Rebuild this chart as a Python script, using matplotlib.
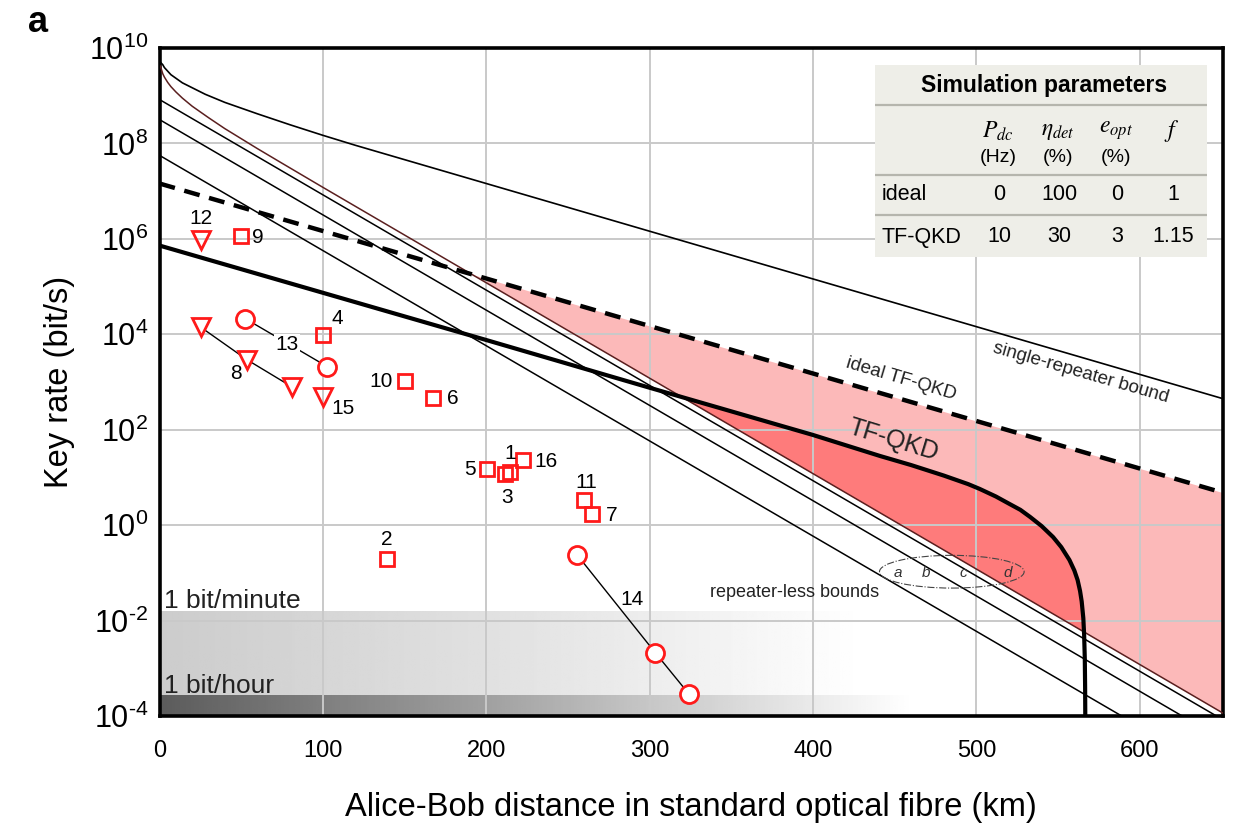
import numpy as np
import matplotlib.pyplot as plt
from matplotlib.patches import Ellipse

plt.rcParams['font.family'] = ['Liberation Sans', 'DejaVu Sans']
plt.rcParams['mathtext.fontset'] = 'stix'

# curves: distance (km), log10 of key rate (bit/s)
single_rep_km = [0, 2, 3, 7, 14, 28, 40, 60, 80, 100, 120, 150, 200, 300, 400, 500, 651]
single_rep_exp = [9.72, 9.65, 9.59, 9.44, 9.27, 9.03, 8.86, 8.62, 8.39, 8.17, 7.96, 7.66, 7.16, 6.16, 5.16, 4.16, 2.65]

ideal_km = [0, 651]
ideal_exp = [7.16, 0.68]

tfqkd_km = [0, 100, 200, 300, 400, 441, 460, 480, 495, 502, 512, 520, 527, 533, 540, 547,
            552, 557, 560, 562, 563.5, 564.5, 565.5, 566, 566.4, 566.6, 566.7]
tfqkd_exp = [5.86, 4.87, 3.88, 2.88, 1.89, 1.45, 1.26, 1.04, 0.86, 0.76, 0.60, 0.45, 0.32, 0.17, -0.02, -0.25,
             -0.46, -0.73, -0.95, -1.15, -1.38, -1.6, -1.95, -2.3, -2.8, -3.4, -4.0]

bound_a_km, bound_a_exp = [0, 589], [7.75, -4.0]
bound_b_km, bound_b_exp = [0, 626], [8.50, -4.0]
bound_c_km, bound_c_exp = [0, 647], [8.92, -4.0]
bound_d_km = [0.5, 1, 2, 3, 5, 7, 10, 14, 20, 30, 40, 50, 60, 75, 100, 200, 400, 651]
bound_d_exp = [9.62, 9.57, 9.46, 9.39, 9.28, 9.19, 9.08, 8.95, 8.78, 8.54, 8.31, 8.10, 7.89, 7.585, 7.08,
               5.08, 1.08, -3.94]

# experiments
sq_labels = ['9', '4', '10', '6', '5', '3', '1', '16', '11', '7', '2']
sq_km = [49.9, 100.3, 150.3, 167.7, 200.4, 211.6, 214.6, 222.8, 260.0, 265.0, 139.3]
sq_exp = [6.07, 3.98, 3.02, 2.67, 1.17, 1.08, 1.12, 1.36, 0.52, 0.23, -0.71]

tri_labels = ['12', '15']
tri_km = [25.2, 99.9]
tri_exp = [5.98, 2.69]

tri8_km = [25.2, 53.4, 81.0]
tri8_exp = [4.15, 3.47, 2.90]
circ13_km = [52.4, 102.8]
circ13_exp = [4.33, 3.32]
circ14_km = [255.8, 303.4, 324.1]
circ14_exp = [-0.63, -2.67, -3.54]

per_minute = 1 / 60
per_hour = 1 / 3600

# label offsets in pixels
offsets = {'9': (11, -2, 'left'), '4': (14, 17, 'center'), '10': (-24, 0, 'center'),
           '6': (19, -1, 'center'), '5': (-17, 0, 'center'), '3': (2, -24, 'center'),
           '1': (0, 18, 'center'), '16': (23, -1, 'center'), '11': (2, 18, 'center'),
           '7': (19, -1, 'center'), '2': (0, 20, 'center'), '12': (0, 21, 'center'),
           '15': (20, -12, 'center')}

red = '#ff1a1a'
light_pink = '#fcb9b9'
dark_pink = '#fe7b7b'

fig = plt.figure(figsize=(12.35, 8.31), dpi=100)
ax = fig.add_axes([159.5 / 1235, 1 - 716 / 831, (1223 - 159.5) / 1235, (716 - 48) / 831])
ax.set_yscale('log')


def r(v):
    return 10.0 ** np.asarray(v)


# grey bands for 1 bit/minute and 1 bit/hour
gx = np.linspace(0, 651, 400)
light = np.interp(gx, [0, 100, 200, 300, 430], [0.80, 0.84, 0.88, 0.93, 1.0])
dark = np.interp(gx, [0, 100, 200, 300, 460], [0.36, 0.50, 0.63, 0.78, 1.0])
ymin, ymax = -4, 10
f_min = (np.log10(per_minute) - ymin) / (ymax - ymin)
f_hour = (np.log10(per_hour) - ymin) / (ymax - ymin)
tr = ax.get_xaxis_transform()
ax.imshow(light[None, :], cmap='gray', vmin=0, vmax=1, aspect='auto',
          extent=(0, 651, f_hour, f_min), transform=tr, zorder=0)
ax.imshow(dark[None, :], cmap='gray', vmin=0, vmax=1, aspect='auto',
          extent=(0, 651, 0, f_hour), transform=tr, zorder=0)

# shaded regions
xs = np.linspace(0, 651, 3000)
d_i = np.interp(xs, bound_d_km, bound_d_exp)
ideal_i = np.interp(xs, ideal_km, ideal_exp)
tf_i = np.interp(xs, tfqkd_km, tfqkd_exp)
ax.fill_between(xs, r(d_i), r(ideal_i), where=ideal_i > d_i, interpolate=True,
                color=light_pink, lw=0, zorder=1)
ax.fill_between(xs, r(d_i), r(tf_i), where=tf_i > d_i, interpolate=True,
                color=dark_pink, lw=0, zorder=1)

# curves
ax.plot(single_rep_km, r(single_rep_exp), color='black', lw=1.2, zorder=3)
for km, ex in [(bound_a_km, bound_a_exp), (bound_b_km, bound_b_exp), (bound_c_km, bound_c_exp)]:
    ax.plot(km, r(ex), color='black', lw=1.1, zorder=3)
ax.plot(bound_d_km, r(bound_d_exp), color='#5a1f1f', lw=1.1, zorder=3)
ax.plot(ideal_km, r(ideal_exp), color='black', lw=3.2, dashes=(3.6, 2.2), zorder=3)
ax.plot(tfqkd_km, r(tfqkd_exp), color='black', lw=3.0, zorder=3, solid_joinstyle='round')

# experiment groups
for km, ex in [(tri8_km, tri8_exp), (circ13_km, circ13_exp), (circ14_km, circ14_exp)]:
    ax.plot(km, r(ex), color='black', lw=1.0, zorder=3)
mk = dict(linestyle='none', markerfacecolor='white', markeredgecolor=red, markeredgewidth=2.0, zorder=4)
ax.plot(sq_km, r(sq_exp), marker='s', markersize=10, **dict(mk, markerfacecolor='none'))
ax.plot(tri_km, r(tri_exp), marker='v', markersize=13, **dict(mk, markerfacecolor='none'))
ax.plot(tri8_km, r(tri8_exp), marker='v', markersize=13, **mk)
ax.plot(circ13_km, r(circ13_exp), marker='o', markersize=13, **mk)
ax.plot(circ14_km, r(circ14_exp), marker='o', markersize=13, **mk)

lab_fs = 15
for lab, x, e in zip(sq_labels + tri_labels, sq_km + tri_km, sq_exp + tri_exp):
    dx, dy, ha = offsets[lab]
    ax.annotate(lab, (x, 10 ** e), xytext=(dx, dy), textcoords='offset pixels',
                ha=ha, va='center', fontsize=lab_fs, zorder=5)
ax.annotate('8', (tri8_km[1], 10 ** tri8_exp[1]), xytext=(-11, -14), textcoords='offset pixels',
            ha='center', va='center', fontsize=lab_fs)
ax.annotate('13', (circ13_km[0], 10 ** circ13_exp[0]), xytext=(42, -26), textcoords='offset pixels',
            ha='center', va='center', fontsize=lab_fs,
            bbox=dict(boxstyle='square,pad=0.05', fc='white', ec='none'), zorder=5)
ax.annotate('14', (circ14_km[0], 10 ** circ14_exp[0]), xytext=(55, -44), textcoords='offset pixels',
            ha='center', va='center', fontsize=lab_fs)

# curve annotations
ax.text(564, 10 ** 3.20, 'single-repeater bound', fontsize=13.5, rotation=-16,
        ha='center', va='center', rotation_mode='anchor', color='#222222')
ax.text(454, 10 ** 3.07, 'ideal TF-QKD', fontsize=13.5, rotation=-16.5,
        ha='center', va='center', rotation_mode='anchor', color='#222222')
ax.text(449, 10 ** 1.78, 'TF-QKD', fontsize=18, rotation=-17,
        ha='center', va='center', rotation_mode='anchor', color='#222222')
ax.text(389, 10 ** -1.42, 'repeater-less bounds', fontsize=13, ha='center', va='center',
        color='#222222')
for lab, x in zip(['a', 'b', 'c', 'd'], [452, 469, 492, 519]):
    ax.text(x, 10 ** -1.0, lab, fontsize=11, style='italic', ha='center', va='center', color='#333333')
ax.add_patch(Ellipse((0.745, 0.216), 0.136, 0.049, transform=ax.transAxes, fill=False,
                     ls='-.', lw=0.8, ec='#444444', zorder=3))
ax.text(3, per_minute * 1.55, '1 bit/minute', fontsize=19, ha='left', va='center', color='#222222')
ax.text(3, per_hour * 1.5, '1 bit/hour', fontsize=19, ha='left', va='center', color='#222222')

# axes styling
ax.set_xlim(0, 651)
ax.set_ylim(1e-4, 1e10)
ax.set_xticks([0, 100, 200, 300, 400, 500, 600])
yt = list(range(-4, 11, 2))
ax.set_yticks([10.0 ** k for k in yt])
ax.set_yticklabels([r'$\mathregular{10^{%s}}$' % (r'\text{-}%d' % -k if k < 0 else '%d' % k) for k in yt])
ax.minorticks_off()
ax.tick_params(axis='x', labelsize=17, length=0, pad=17)
ax.tick_params(axis='y', labelsize=22, length=0, pad=8)
ax.grid(True, color='#c9c9c9', lw=1.4)
ax.set_axisbelow('line')
for s in ax.spines.values():
    s.set_linewidth(2.6)
ax.set_xlabel('Alice-Bob distance in standard optical fibre (km)', fontsize=23.5, labelpad=22)
ax.set_ylabel('Key rate (bit/s)', fontsize=23.5, labelpad=10)

fig.text(28 / 1235, 1 - 22 / 831, 'a', fontsize=26, fontweight='bold', ha='left', va='center')

# simulation parameters table
tb = fig.add_axes([875 / 1235, 1 - 257 / 831, 332 / 1235, 192 / 831])
tb.set_facecolor('#eeeee8')
tb.set_xlim(0, 332)
tb.set_ylim(192, 0)
tb.set_xticks([])
tb.set_yticks([])
for s in tb.spines.values():
    s.set_visible(False)
for yl in [40, 110, 150]:
    tb.axhline(yl, color='#b5b5ad', lw=1.6)
tb.text(169, 21, 'Simulation parameters', fontsize=16.5, fontweight='bold', ha='center', va='center')
col_x = [123, 183, 241, 297]
heads = [r'$P_{dc}$', r'$\eta_{det}$', r'$e_{opt}$', r'$f$']
units = ['(Hz)', '(%)', '(%)', '']
row_names = ['ideal', 'TF-QKD']
row_pdc = ['0', '10']
row_eta = ['100', '30']
row_eopt = ['0', '3']
row_f = ['1', '1.15']
for cx, h, u in zip(col_x, heads, units):
    tb.text(cx, 66, h, fontsize=17, ha='center', va='center')
    tb.text(cx, 93, u, fontsize=14, ha='center', va='center')
for ry, name, a1, a2, a3, a4 in zip([130, 172], row_names, row_pdc, row_eta, row_eopt, row_f):
    tb.text(7, ry, name, fontsize=15.5, ha='left', va='center')
    for cx, v in zip(col_x, [a1, a2, a3, a4]):
        tb.text(cx + 1, ry, v, fontsize=15.5, ha='center', va='center')

fig.savefig('out.png', dpi=100)
